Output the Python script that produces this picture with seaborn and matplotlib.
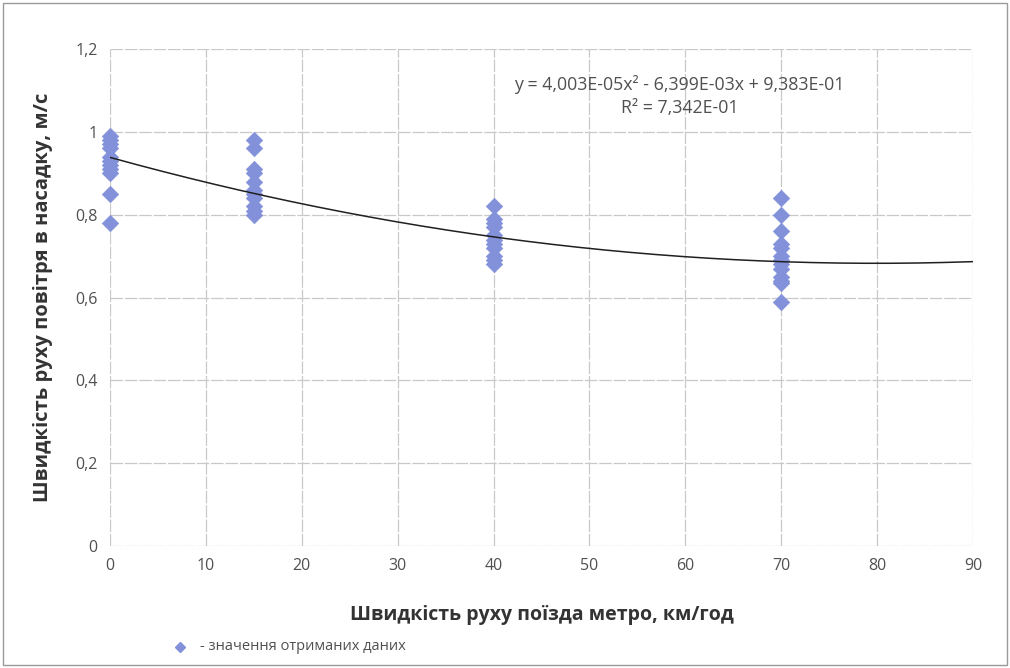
import numpy as np
import pandas as pd
import matplotlib
matplotlib.use('Agg')
import matplotlib.pyplot as plt
from matplotlib.patches import Rectangle
from matplotlib.lines import Line2D
import seaborn as sns

# ── Data ─────────────────────────────────────────────────────────────────────
speed_0  = [0.99, 0.98, 0.97, 0.96, 0.94, 0.93, 0.92, 0.91, 0.90, 0.85, 0.78]
speed_15 = [0.98, 0.96, 0.91, 0.90, 0.88, 0.86, 0.85, 0.84, 0.82, 0.81, 0.80]
speed_40 = [0.82, 0.79, 0.78, 0.77, 0.75, 0.74, 0.73, 0.72, 0.70, 0.69, 0.68]
speed_70 = [0.84, 0.80, 0.76, 0.73, 0.72, 0.70, 0.69, 0.68, 0.67, 0.65, 0.64, 0.635, 0.59]
train_speeds = [0, 15, 40, 70]

trend_coef = [4.003e-05, -6.399e-03, 9.383e-01]   # y = a x^2 + b x + c
trend_range = [0, 90]

x_ticks = [0, 10, 20, 30, 40, 50, 60, 70, 80, 90]
y_ticks = [0, 0.2, 0.4, 0.6, 0.8, 1.0, 1.2]
y_tick_labels = ['0', '0,2', '0,4', '0,6', '0,8', '1', '1,2']

eq_text = 'y = 4,003E-05x² - 6,399E-03x + 9,383E-01\nR² = 7,342E-01'
x_label = 'Швидкість руху поїзда метро, км/год'
y_label = 'Швидкість руху повітря в насадку, м/с'
legend_label = '- значення отриманих даних'

df = pd.DataFrame({
    'x': np.repeat(train_speeds, [len(speed_0), len(speed_15), len(speed_40), len(speed_70)]),
    'y': speed_0 + speed_15 + speed_40 + speed_70,
})

# ── Style ────────────────────────────────────────────────────────────────────
sns.set_style('white')
plt.rcParams['font.family'] = ['Open Sans', 'DejaVu Sans']
MARK = '#8291da'
TXT = '#505050'

fig = plt.figure(figsize=(10.1, 6.68), dpi=100)
ax = fig.add_axes([110 / 1010, 1 - 546 / 668, (973 - 110) / 1010, (546 - 49) / 668])

sns.scatterplot(data=df, x='x', y='y', marker='D', s=70, color=MARK,
                edgecolor=MARK, linewidth=0.5, ax=ax, zorder=3, clip_on=False)

xs = np.linspace(trend_range[0], trend_range[1], 200)
ax.plot(xs, np.polyval(trend_coef, xs), color='#202020', lw=1.1, zorder=4)

ax.set_xlim(0, 90)
ax.set_ylim(0, 1.2)
ax.set_xticks(x_ticks)
ax.set_yticks(y_ticks)
ax.set_yticklabels(y_tick_labels)
ax.tick_params(axis='both', labelsize=11.5, colors=TXT, length=0, pad=9)
ax.grid(True, color='#c9c9c9', lw=0.9, ls=(0, (10, 1.5)))
for s in ax.spines.values():
    s.set_visible(False)
ax.set_axisbelow(True)

ax.set_xlabel(x_label, fontsize=14, fontweight='bold', color='#333333', labelpad=22)
ax.set_ylabel(y_label, fontsize=14.5, fontweight='bold', color='#333333', labelpad=16)

ax.text(59.4, 1.087, eq_text, ha='center', va='center', fontsize=12.8,
        color=TXT, linespacing=1.35)

# legend-like note at the bottom
fig.add_artist(Line2D([180 / 1010], [1 - 647 / 668], marker='D', markersize=5,
                      color=MARK, transform=fig.transFigure))
fig.text(200 / 1010, 1 - 647 / 668, legend_label, fontsize=10.5, color=TXT, va='center')

# outer frame
fig.add_artist(Rectangle((3 / 1010, 3 / 668), 1004 / 1010, 662 / 668, fill=False,
                         edgecolor='#9a9a9a', lw=1, transform=fig.transFigure))

fig.savefig('out.png', dpi=100)
